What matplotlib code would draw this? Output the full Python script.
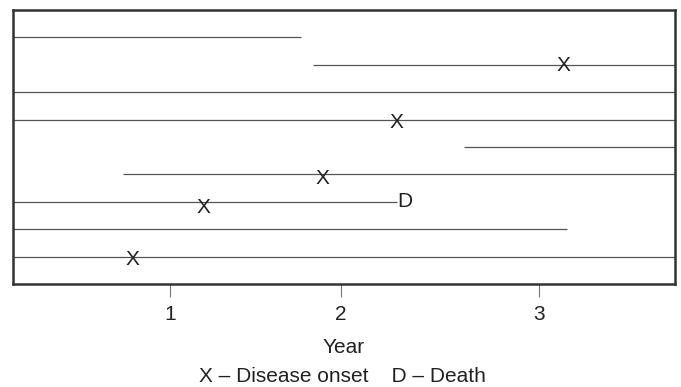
import matplotlib.pyplot as plt

plt.rcParams['font.family'] = ['Liberation Sans', 'DejaVu Sans']

# follow-up of each subject (row 9 = top line, row 1 = bottom line)
rows = [9, 8, 7, 6, 5, 4, 3, 2, 1]
start = [0.149, 1.775, 0.149, 0.149, 2.593, 0.745, 0.149, 0.149, 0.149]
end = [1.710, 3.8, 3.8, 3.8, 3.8, 3.8, 2.230, 3.152, 3.8]

# events
onset_x = [3.130, 2.230, 1.824, 1.179, 0.794]
onset_y = [7.96, 5.89, 3.85, 2.80, 0.89]
death_x = [2.230]
death_y = [3.02]

tick_pos = [1.0, 1.927, 3.0]
tick_labels = ['1', '2', '3']

fig = plt.figure(figsize=(6.81, 3.87), dpi=100)
ax = fig.add_axes([13 / 681, 1 - 284 / 387, 662 / 681, 274 / 387])

ax.hlines(rows, start, end, color='#555555', linewidth=0.9)
for x, y in zip(onset_x, onset_y):
    ax.text(x, y, 'X', fontsize=15, ha='center', va='center', color='#222222')
for x, y in zip(death_x, death_y):
    ax.text(x, y, 'D', fontsize=15, ha='left', va='center', color='#222222')

ax.set_xlim(0.149, 3.737)
ax.set_ylim(0, 10)
ax.set_yticks([])
ax.set_xticks(tick_pos)
ax.set_xticklabels(tick_labels, fontsize=15)
ax.tick_params(axis='x', length=9, width=0.8, color='#777777', pad=6, labelcolor='#222222')
for s in ax.spines.values():
    s.set_linewidth(1.8)
    s.set_color('#333333')

ax.set_xlabel('Year', fontsize=15, labelpad=10, color='#222222')
fig.text(342 / 681, 1 - 377 / 387, 'X \u2013 Disease onset    D \u2013 Death',
         fontsize=15, ha='center', va='center', color='#222222')

fig.savefig('out.png', dpi=100)
